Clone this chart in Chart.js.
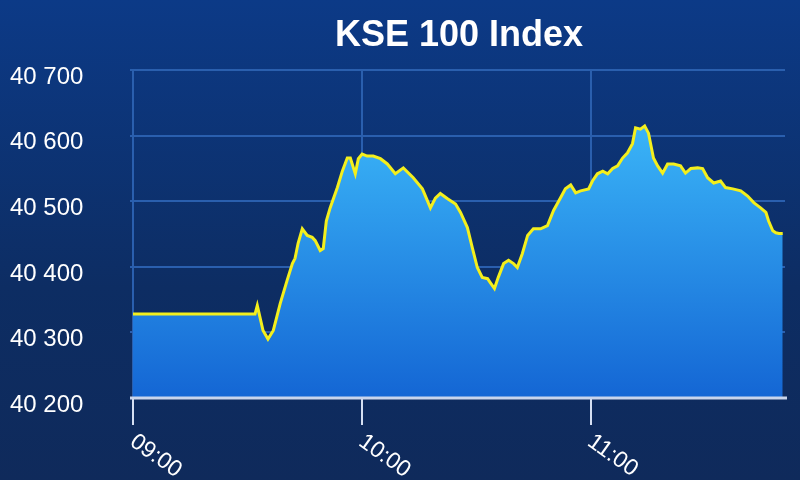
<!DOCTYPE html>
<html>
<head>
<meta charset="utf-8">
<script src="https://cdn.jsdelivr.net/npm/chart.js@4.4.1/dist/chart.umd.min.js"></script>
<style>
    html, body { margin: 0; padding: 0; }
    body { width: 800px; height: 480px; background: linear-gradient(#0c3a87, #0d2d63 60%, #0f2a5b); }
    #wrap { width: 800px; height: 480px; }
</style>
</head>
<body>
<div id="wrap"><canvas id="kse"></canvas></div>
<script>
// Minutes after 09:00 and index level
var minutes = [0, 32.0, 32.6, 34.1, 35.4, 36.8, 38.6, 40.4, 41.8, 42.5, 43.3, 44.4, 45.7, 47.0, 47.8,
    49.1, 49.9, 50.7, 51.7, 53.6, 54.9, 56.2, 57.0, 58.3, 59.1, 60.1, 61.4, 63.0, 64.9, 66.7,
    68.8, 70.9, 73.5, 75.9, 78.0, 79.3, 80.6, 82.5, 84.6, 85.9, 87.7, 89.0, 90.3, 91.6, 93.0,
    93.7, 94.8, 95.8, 97.2, 98.5, 99.8, 100.8, 102.1, 103.5, 105.0, 106.9, 108.7, 110.3, 112.1,
    113.4, 114.8, 116.1, 117.4, 119.5, 120.5, 121.8, 123.2, 124.5, 125.8, 127.1, 128.4, 129.7,
    131.0, 131.8, 133.1, 134.2, 135.2, 136.5, 137.6, 138.9, 140.2, 141.8, 143.6, 144.9, 146.3,
    148.1, 149.4, 150.7, 152.3, 154.1, 155.4, 157.3, 159.4, 161.2, 162.8, 164.6, 166.0, 166.7,
    167.8, 168.6, 169.4, 170.4];
var values = [40328, 40328, 40341, 40303, 40290, 40303, 40344, 40379, 40405, 40413, 40436, 40458, 40448, 40445, 40440,
    40425, 40428, 40470, 40490, 40521, 40546, 40566, 40566, 40542, 40565, 40572, 40569, 40569, 40565, 40557,
    40542, 40551, 40536, 40519, 40490, 40505, 40512, 40504, 40496, 40483, 40460, 40429, 40399, 40384, 40382,
    40376, 40367, 40384, 40405, 40410, 40405, 40399, 40420, 40448, 40458, 40458, 40463, 40486, 40505,
    40519, 40525, 40513, 40516, 40519, 40531, 40542, 40546, 40542, 40550, 40554, 40566, 40574,
    40588, 40612, 40610, 40615, 40604, 40566, 40554, 40543, 40557, 40557, 40554, 40543, 40550,
    40551, 40550, 40536, 40528, 40531, 40521, 40519, 40516, 40508, 40498, 40490, 40483, 40470,
    40455, 40452, 40451, 40451];

// Axis ticks
var timeTicks = [0, 60, 120];
var timeLabels = ['09:00', '10:00', '11:00'];
var levelTicks = [40200, 40300, 40400, 40500, 40600, 40700];

var points = minutes.map(function (m, i) { return { x: m, y: values[i] }; });

function levelText(v) {
    var s = String(v);
    return s.slice(0, s.length - 3) + ' ' + s.slice(-3);
}

// Draws the level labels, the slanted time labels and the white base line
var axisLabelsPlugin = {
    id: 'axisLabels',
    afterDraw: function (chart) {
        var ctx = chart.ctx;
        var xs = chart.scales.x;
        var ys = chart.scales.y;
        var area = chart.chartArea;
        ctx.save();
        ctx.strokeStyle = '#c9d5ec';
        ctx.lineWidth = 3;
        ctx.beginPath();
        ctx.moveTo(area.left - 3, area.bottom);
        ctx.lineTo(area.right + 2, area.bottom);
        ctx.stroke();

        ctx.fillStyle = '#ffffff';
        ctx.font = '24px "Liberation Sans", Arial, sans-serif';
        ctx.textAlign = 'left';
        ctx.textBaseline = 'middle';
        levelTicks.forEach(function (v) {
            ctx.fillText(levelText(v), 10, ys.getPixelForValue(v) + 7);
        });

        ctx.font = '23px "Liberation Sans", Arial, sans-serif';
        ctx.textBaseline = 'top';
        timeTicks.forEach(function (t, i) {
            ctx.save();
            ctx.translate(xs.getPixelForValue(t) + 6, area.bottom + 32);
            ctx.rotate(0.62);
            ctx.fillText(timeLabels[i], 0, 0);
            ctx.restore();
        });
        ctx.restore();
    }
};

var ctx = document.getElementById('kse').getContext('2d');

new Chart(ctx, {
    type: 'line',
    data: {
        datasets: [{
            data: points,
            borderColor: '#f4ef1c',
            borderWidth: 3,
            pointRadius: 0,
            tension: 0,
            fill: 'start',
            backgroundColor: function (c) {
                var area = c.chart.chartArea;
                if (!area) return '#2a90e8';
                var g = c.chart.ctx.createLinearGradient(0, area.top + 50, 0, area.bottom);
                g.addColorStop(0, '#3bb6f8');
                g.addColorStop(1, '#1466d4');
                return g;
            }
        }]
    },
    options: {
        responsive: true,
        maintainAspectRatio: false,
        animation: false,
        layout: { padding: { left: 10, right: 15, top: 0, bottom: 0 } },
        plugins: {
            legend: { display: false },
            tooltip: { enabled: false },
            title: {
                display: true,
                text: 'KSE 100 Index',
                color: '#ffffff',
                fullSize: false,
                font: { family: '"Liberation Sans", Arial, sans-serif', size: 36, weight: 'bold' },
                padding: { top: 14, bottom: 13 }
            }
        },
        scales: {
            x: {
                type: 'linear',
                min: 0,
                max: 171,
                afterBuildTicks: function (scale) {
                    scale.ticks = timeTicks.map(function (v) { return { value: v }; });
                },
                afterFit: function (scale) { scale.height = 82; },
                ticks: { display: false },
                grid: {
                    color: '#2a5fae',
                    lineWidth: 2,
                    tickColor: '#d5dff2',
                    tickWidth: 2,
                    tickLength: 27
                },
                border: { display: false }
            },
            y: {
                min: 40200,
                max: 40700,
                afterBuildTicks: function (scale) {
                    scale.ticks = levelTicks.map(function (v) { return { value: v }; });
                },
                afterFit: function (scale) { scale.width = 123; },
                ticks: { display: false },
                grid: {
                    color: '#2a5fae',
                    lineWidth: 2,
                    tickLength: 3
                },
                border: { display: false }
            }
        }
    },
    plugins: [axisLabelsPlugin]
});
</script>
</body>
</html>
